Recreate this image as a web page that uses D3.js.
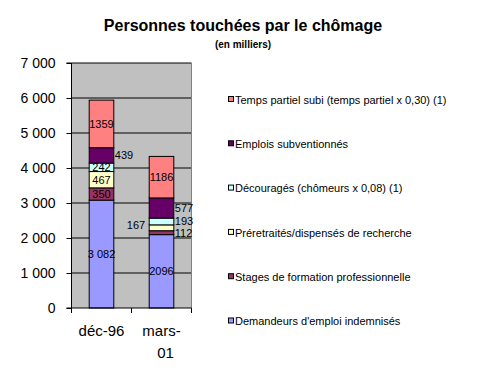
<!DOCTYPE html>
<html>
<head>
<meta charset="utf-8">
<script src="https://cdn.jsdelivr.net/npm/d3@7"></script>
<style>
  body { margin: 0; background: #fff; }
  text { font-family: Arial, "Liberation Sans", sans-serif; }
</style>
</head>
<body>
<div id="chart"></div>
<script>
// data (milliers)
const categories = ['déc-96', 'mars-01'];
const seriesNames = [
  'Demandeurs d\'emploi indemnisés',
  'Stages de formation professionnelle',
  'Préretraités/dispensés de recherche',
  'Découragés (chômeurs x 0,08) (1)',
  'Emplois subventionnés',
  'Temps partiel subi (temps partiel x 0,30) (1)'
];
const colors = ['#9999FF', '#993366', '#FFFFCC', '#CCFFFF', '#660066', '#FF8080'];
const dec96 = [3082, 350, 467, 242, 439, 1359];
const mars01 = [2096, 112, 167, 193, 577, 1186];
const labelText = [
  ['3 082', '350', '467', '242', '439', '1359'],
  ['2096', '112', '167', '193', '577', '1186']
];
// where Excel put each label: c = centre, r = right of bar, l = left of bar
const labelSide = [
  ['c', 'c', 'c', 'c', 'r', 'c'],
  ['c', 'r', 'l', 'r', 'r', 'c']
];
const yTicks = [0, 1000, 2000, 3000, 4000, 5000, 6000, 7000];

const width = 487, height = 370;
const plot = { left: 71.5, right: 191.5, top: 63, bottom: 308 };

const svg = d3.select('#chart').append('svg')
  .attr('width', width)
  .attr('height', height);

const x = d3.scaleBand().domain(categories).range([plot.left, plot.right]);
const y = d3.scaleLinear().domain([0, 7000]).range([plot.bottom, plot.top]);
const barW = x.bandwidth() * 0.41;

// plot background
svg.append('rect')
  .attr('x', plot.left).attr('y', plot.top)
  .attr('width', plot.right - plot.left).attr('height', plot.bottom - plot.top)
  .attr('fill', '#C0C0C0');

// gridlines
svg.selectAll('.grid')
  .data(yTicks.slice(1))
  .enter().append('line')
  .attr('x1', plot.left).attr('x2', plot.right)
  .attr('y1', d => y(d)).attr('y2', d => y(d))
  .attr('stroke', '#000').attr('stroke-width', 1);

// right border of plot area
svg.append('line')
  .attr('x1', plot.right).attr('x2', plot.right)
  .attr('y1', plot.top).attr('y2', plot.bottom)
  .attr('stroke', '#808080');

// stacked bars
const rows = categories.map((c, i) => {
  const obj = { cat: c };
  const vals = i === 0 ? dec96 : mars01;
  seriesNames.forEach((s, j) => { obj[s] = vals[j]; });
  return obj;
});
const stacked = d3.stack().keys(seriesNames)(rows);

stacked.forEach((layer, j) => {
  svg.selectAll('.bar' + j)
    .data(layer)
    .enter().append('rect')
    .attr('x', d => x(d.data.cat) + (x.bandwidth() - barW) / 2)
    .attr('y', d => y(d[1]))
    .attr('width', barW)
    .attr('height', d => y(d[0]) - y(d[1]))
    .attr('fill', colors[j])
    .attr('stroke', '#000')
    .attr('stroke-width', 1);
});

// data labels
stacked.forEach((layer, j) => {
  layer.forEach((d, i) => {
    const cx = x(d.data.cat) + x.bandwidth() / 2;
    const side = labelSide[i][j];
    let tx = cx, anchor = 'middle';
    if (side === 'r') { tx = cx + barW / 2 + 1; anchor = 'start'; }
    if (side === 'l') { tx = cx - barW / 2 - 4; anchor = 'end'; }
    let ty = y((d[0] + d[1]) / 2);
    if (i === 1 && j === 1) ty = y(d[1]) + 2;
    if (i === 1 && j === 2) ty = y((d[0] + d[1]) / 2) - 3;
    svg.append('text')
      .attr('x', tx).attr('y', ty).attr('dy', '0.35em')
      .attr('text-anchor', anchor)
      .attr('font-size', 11)
      .text(labelText[i][j]);
  });
});

// y axis
const yAxis = d3.axisLeft(y)
  .tickValues(yTicks)
  .tickSize(5)
  .tickPadding(11)
  .tickFormat(d => d3.format(',')(d).replace(',', ' '));
const ya = svg.append('g')
  .attr('transform', `translate(${plot.left},0)`)
  .call(yAxis);
ya.select('.domain').attr('stroke', '#000').attr('d', `M-5,${plot.top}H0V${plot.bottom}H-5`);
ya.selectAll('text').attr('font-size', 14).attr('fill', '#000')
  .style('font-family', 'Arial, "Liberation Sans", sans-serif');

// x axis
svg.append('line')
  .attr('x1', plot.left).attr('x2', plot.right)
  .attr('y1', plot.bottom).attr('y2', plot.bottom)
  .attr('stroke', '#000');
const bounds = [plot.left, plot.left + x.step(), plot.right];
svg.selectAll('.xtick')
  .data(bounds)
  .enter().append('line')
  .attr('x1', d => d).attr('x2', d => d)
  .attr('y1', plot.bottom).attr('y2', plot.bottom + 5)
  .attr('stroke', '#000');

const xLabels = [['déc-96'], ['mars-', '01']];
categories.forEach((c, i) => {
  const t = svg.append('text')
    .attr('x', x(c) + x.bandwidth() / 2)
    .attr('y', 336)
    .attr('text-anchor', 'middle')
    .attr('font-size', 15);
  xLabels[i].forEach((line, k) => {
    t.append('tspan')
      .attr('x', x(c) + x.bandwidth() / 2 + (k === 1 ? 4 : 0))
      .attr('dy', k === 0 ? 0 : 22)
      .text(line);
  });
});

// titles
svg.append('text')
  .attr('x', 243).attr('y', 31)
  .attr('text-anchor', 'middle')
  .attr('font-size', 16).attr('font-weight', 'bold')
  .text('Personnes touchées par le chômage');
svg.append('text')
  .attr('x', 243).attr('y', 48)
  .attr('text-anchor', 'middle')
  .attr('font-size', 10).attr('font-weight', 'bold')
  .text('(en milliers)');

// legend, top to bottom = last series first
const legendRows = seriesNames.map((s, j) => ({ name: s, color: colors[j] })).reverse();
const lg = svg.selectAll('.legend')
  .data(legendRows)
  .enter().append('g')
  .attr('transform', (d, k) => `translate(228,${100 + k * 44.3})`);
lg.append('rect')
  .attr('x', 0.5).attr('y', -3.5)
  .attr('width', 5).attr('height', 5)
  .attr('fill', d => d.color)
  .attr('stroke', '#000');
lg.append('text')
  .attr('x', 7).attr('y', 0).attr('dy', '0.35em')
  .attr('font-size', 11)
  .text(d => d.name);
</script>
</body>
</html>
